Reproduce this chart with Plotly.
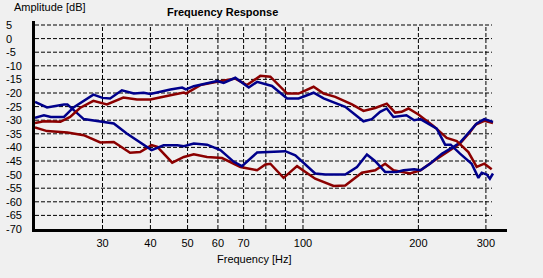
import numpy as np
import plotly.graph_objects as go

# ---- data ----
blue_upper_f = [20, 21.1, 22, 23.8, 25.2, 26.8, 28.4, 30, 31.4, 33.7, 36.2, 38.4, 40, 45.1, 48.4, 49.5, 51.9,
                59.7, 62.1, 66.6, 72.2, 75.9, 79.8, 83, 90.9, 97.4, 106.6, 113.2, 122.6, 128.9, 143.8, 151.2,
                158.9, 165.4, 172.2, 186.1, 195, 202.5, 223.3, 234.8, 242.8, 256.8, 275.4, 286.8, 292.5,
                301.5, 307.2, 313]
blue_upper_db = [-29.1, -28.2, -28.8, -28.8, -25.3, -23, -20.6, -21.8, -22, -19, -20.2, -19.9, -20.4, -18.7,
                 -18, -18.7, -17.5, -15.6, -16.3, -14.4, -18, -15.9, -16.7, -17.4, -22, -22, -19.9, -22,
                 -23.9, -25.1, -30.4, -29.6, -26.9, -25.7, -28.8, -28.2, -30, -29.6, -33.1, -39, -39, -42.3,
                 -46, -51.2, -49.3, -50, -51.5, -49.6]

red_upper_f = [20, 21.1, 23.3, 24.7, 26.2, 28.4, 30.8, 34, 36.9, 40, 45.1, 48.9, 49.5, 54, 59.7, 66.6, 71.4,
               77.4, 82.2, 90.9, 97.4, 106.6, 113.2, 121.4, 134.2, 143.8, 154.3, 165.4, 174, 180.8, 188.4,
               200, 218.8, 237.1, 251.8, 270, 283.9, 297.2, 310.6]
red_upper_db = [-31, -30.4, -30.6, -28.8, -25.5, -22.9, -24.2, -21.7, -22.4, -22.4, -20.8, -19.8, -20.2,
                -17.1, -15.9, -14.7, -17.1, -13.7, -14, -20.2, -20.2, -17.7, -20.2, -21.4, -24.2, -26.6,
                -25.5, -23.9, -27.2, -26.9, -25.7, -27.9, -32.1, -36.5, -37.7, -41.7, -47.2, -46, -48]

blue_lower_f = [20, 21.5, 23.8, 24.3, 26.8, 30, 32.1, 34.7, 38.4, 40.3, 43.3, 47, 48.9, 51.9, 56.2, 60.9, 66,
                69.3, 75.9, 82.2, 89.9, 95.5, 107.6, 114.3, 128.9, 138.3, 146.8, 154.3, 163.8, 175.5, 182.9,
                195, 202.5, 214.4, 230.2, 244.3, 256.8, 270, 283.9, 297.2, 313]
blue_lower_db = [-23.3, -25.3, -24.2, -24.2, -29.6, -30.6, -31.2, -34.9, -39, -41, -39.2, -39.2, -39.6,
                 -38.6, -39, -41, -45.3, -46.9, -41.9, -41.7, -41.4, -42.9, -49.6, -50, -50, -47.2, -42.6,
                 -45.1, -49, -49, -48.4, -48, -48.4, -46, -42.3, -40.2, -38.2, -34.7, -31.2, -29.6, -30.6]

red_lower_f = [20, 21.5, 24.3, 26.8, 29.6, 32.1, 35.4, 37.6, 40.3, 41.7, 45.6, 48.9, 51.9, 56.2, 61.5, 66,
               68.7, 75.9, 79.8, 82.2, 89, 96.5, 107.6, 120.2, 128.9, 142.4, 154.3, 163.8, 172.2, 190.3,
               202.5, 218.8, 237.1, 256.8, 272.8, 282.1, 297.2, 313]
red_lower_db = [-32.7, -34, -34.5, -35.5, -38.2, -38, -42, -41.7, -39.2, -39.8, -45.6, -43.5, -42.5, -43.5,
                -43.9, -46, -47.2, -48.4, -46.3, -46, -51.2, -46.9, -51.5, -54.2, -54, -49.3, -48.4, -46,
                -48.4, -49.6, -48.4, -45.1, -41.7, -38.6, -34.3, -31.6, -30.2, -31]

x_ticks = [30, 40, 50, 60, 70, 100, 200, 300]
x_grid = [30, 40, 50, 60, 70, 80, 90, 100, 200, 300]
y_ticks = list(range(5, -75, -5))

# ---- layout geometry ----
W, H = 543, 278
L, R, T, B = 35, 36, 21, 49
pw, ph = W - L - R, H - T - B
xr = [np.log10(20), np.log10(340.5)]
yr = [-70, 6.47]

RED = "#8b0000"
BLUE = "#00008b"
FONT = "Liberation Sans, Arial, sans-serif"

def px_x(p):
    return (p - L) / pw

def px_y(p):
    return 1 - (p - T) / ph

def fx(f):
    return (np.log10(f) - xr[0]) / (xr[1] - xr[0])

fig = go.Figure()
for f, d, c in [(red_lower_f, red_lower_db, RED), (blue_lower_f, blue_lower_db, BLUE),
                (red_upper_f, red_upper_db, RED), (blue_upper_f, blue_upper_db, BLUE)]:
    fig.add_trace(go.Scatter(x=f, y=d, mode="lines", line=dict(color=c, width=2.5),
                             hoverinfo="skip", showlegend=False))

shapes = []
grid_line = dict(color="black", width=1, dash="4px,2px")
for v in y_ticks[:-1]:
    shapes.append(dict(type="line", xref="paper", yref="y", x0=0, x1=px_x(492), y0=v, y1=v,
                       line=grid_line, layer="below"))
for g in x_grid:
    shapes.append(dict(type="line", xref="paper", yref="y", x0=fx(g), x1=fx(g), y0=-70, y1=5,
                       line=grid_line, layer="below"))

annotations = []
for v in y_ticks:
    annotations.append(dict(text=str(v), xref="paper", yref="y", x=px_x(4), y=v, xanchor="left",
                            yanchor="middle", showarrow=False, font=dict(family=FONT, size=11, color="black")))
annotations.append(dict(text="Amplitude [dB]", xref="paper", yref="paper", x=px_x(12), y=px_y(7),
                        xanchor="left", yanchor="middle", showarrow=False,
                        font=dict(family=FONT, size=11, color="black")))
annotations.append(dict(text="<b>Frequency Response</b>", xref="paper", yref="paper", x=px_x(222.5),
                        y=px_y(12), xanchor="center", yanchor="middle", showarrow=False,
                        font=dict(family=FONT, size=11, color="black")))
annotations.append(dict(text="Frequency [Hz]", xref="paper", yref="paper", x=px_x(254.5), y=px_y(259),
                        xanchor="center", yanchor="middle", showarrow=False,
                        font=dict(family=FONT, size=11, color="black")))

fig.update_layout(
    width=W, height=H, margin=dict(l=L, r=R, t=T, b=B),
    paper_bgcolor="#f0f0f0", plot_bgcolor="#f0f0f0",
    shapes=shapes, annotations=annotations,
    xaxis=dict(type="log", range=xr, showgrid=False, zeroline=False, tickvals=x_ticks,
               ticktext=[str(t) for t in x_ticks], ticks="", showline=True, linecolor="black",
               linewidth=3, tickfont=dict(family=FONT, size=11, color="black"), ticklabelstandoff=2),
    yaxis=dict(range=yr, showgrid=False, zeroline=False, showticklabels=False, ticks="",
               showline=True, linecolor="black", linewidth=3),
)

fig.write_html("out.html")
